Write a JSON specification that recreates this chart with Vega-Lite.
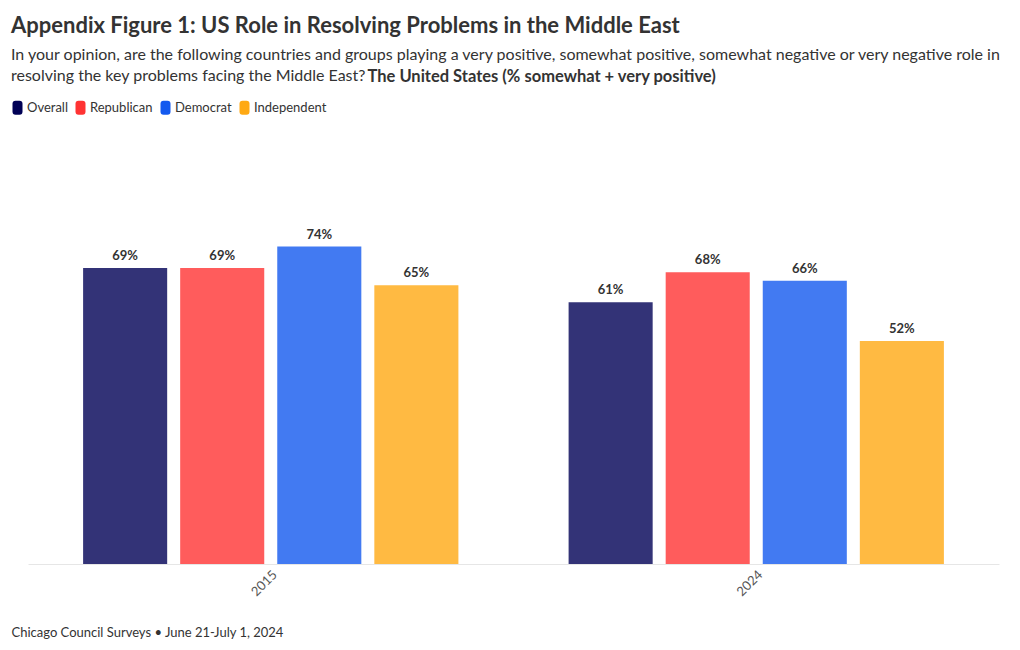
{
  "$schema": "https://vega.github.io/schema/vega-lite/v6.json",
  "width": 971,
  "height": 429,
  "autosize": {"type": "none"},
  "padding": {"left": 28, "top": 135, "right": 21, "bottom": 86},
  "background": "white",
  "config": {"font": "Lato", "view": {"stroke": null}},
  "title": {
    "text": "Appendix Figure 1: US Role in Resolving Problems in the Middle East",
    "subtitle": ["In your opinion, are the following countries and groups playing a very positive, somewhat positive, somewhat negative or very negative role in", "resolving the key problems facing the Middle East?"],
    "anchor": "start",
    "frame": "group",
    "dx": -17,
    "dy": 21,
    "font": "Lato",
    "fontSize": 22,
    "fontWeight": "bold",
    "color": "#333333",
    "subtitleFont": "Lato",
    "subtitleFontSize": 16,
    "subtitleColor": "#333333",
    "subtitleLineHeight": 21,
    "subtitlePadding": 9
  },
  "data": {
    "values": [
      {"year": "2015", "group": "Overall", "value": 0.69},
      {"year": "2015", "group": "Republican", "value": 0.69},
      {"year": "2015", "group": "Democrat", "value": 0.74},
      {"year": "2015", "group": "Independent", "value": 0.65},
      {"year": "2024", "group": "Overall", "value": 0.61},
      {"year": "2024", "group": "Republican", "value": 0.68},
      {"year": "2024", "group": "Democrat", "value": 0.66},
      {"year": "2024", "group": "Independent", "value": 0.52}
    ]
  },
  "encoding": {
    "x": {
      "field": "year",
      "type": "nominal",
      "scale": {"paddingInner": 0.227, "paddingOuter": 0.1135},
      "axis": {
        "title": "Chicago Council Surveys • June 21-July 1, 2024",
        "titleAnchor": "start",
        "titleAlign": "left",
        "titleX": -17,
        "titleY": 72,
        "titleBaseline": "alphabetic",
        "titleFontSize": 13,
        "titleFontWeight": "normal",
        "titleColor": "#333333",
        "labelAngle": -45,
        "labelFontSize": 13,
        "labelColor": "#555555",
        "ticks": false,
        "domainColor": "#e6e6e6",
        "labelPadding": 4
      }
    },
    "xOffset": {
      "field": "group",
      "type": "nominal",
      "sort": ["Overall", "Republican", "Democrat", "Independent"],
      "scale": {"paddingInner": 0.134, "paddingOuter": 0}
    },
    "y": {
      "field": "value",
      "type": "quantitative",
      "scale": {"domain": [0, 1]},
      "axis": {
        "title": "The United States (% somewhat + very positive)",
        "labels": false,
        "ticks": false,
        "domain": false,
        "grid": false,
        "titleAngle": 0,
        "titleX": 339,
        "titleY": -54,
        "titleAlign": "left",
        "titleBaseline": "alphabetic",
        "titleFontSize": 16.5,
        "titleFontWeight": "bold",
        "titleColor": "#333333"
      }
    }
  },
  "layer": [
    {
      "mark": {"type": "bar", "opacity": 0.8},
      "encoding": {
        "color": {
          "field": "group",
          "type": "nominal",
          "scale": {
            "domain": ["Overall", "Republican", "Democrat", "Independent"],
            "range": ["#000055", "#ff3333", "#1359ef", "#ffa913"]
          },
          "legend": {
            "title": null,
            "orient": "none",
            "legendX": -17,
            "legendY": -34,
            "direction": "horizontal",
            "symbolType": "M-0.4,-1.4 L0.4,-1.4 Q1,-1.4 1,-0.8 L1,0.8 Q1,1.4 0.4,1.4 L-0.4,1.4 Q-1,1.4 -1,0.8 L-1,-0.8 Q-1,-1.4 -0.4,-1.4 Z",
            "symbolSize": 100,
            "symbolOpacity": 1,
            "symbolStrokeWidth": 0,
            "labelFontSize": 13,
            "labelColor": "#333333",
            "columnPadding": 6,
            "labelOffset": 3
          }
        }
      }
    },
    {
      "mark": {"type": "text", "dy": -5, "baseline": "bottom", "fontWeight": "bold", "fontSize": 13, "color": "#333333"},
      "encoding": {
        "text": {"field": "value", "type": "quantitative", "format": ".0%"}
      }
    }
  ]
}
